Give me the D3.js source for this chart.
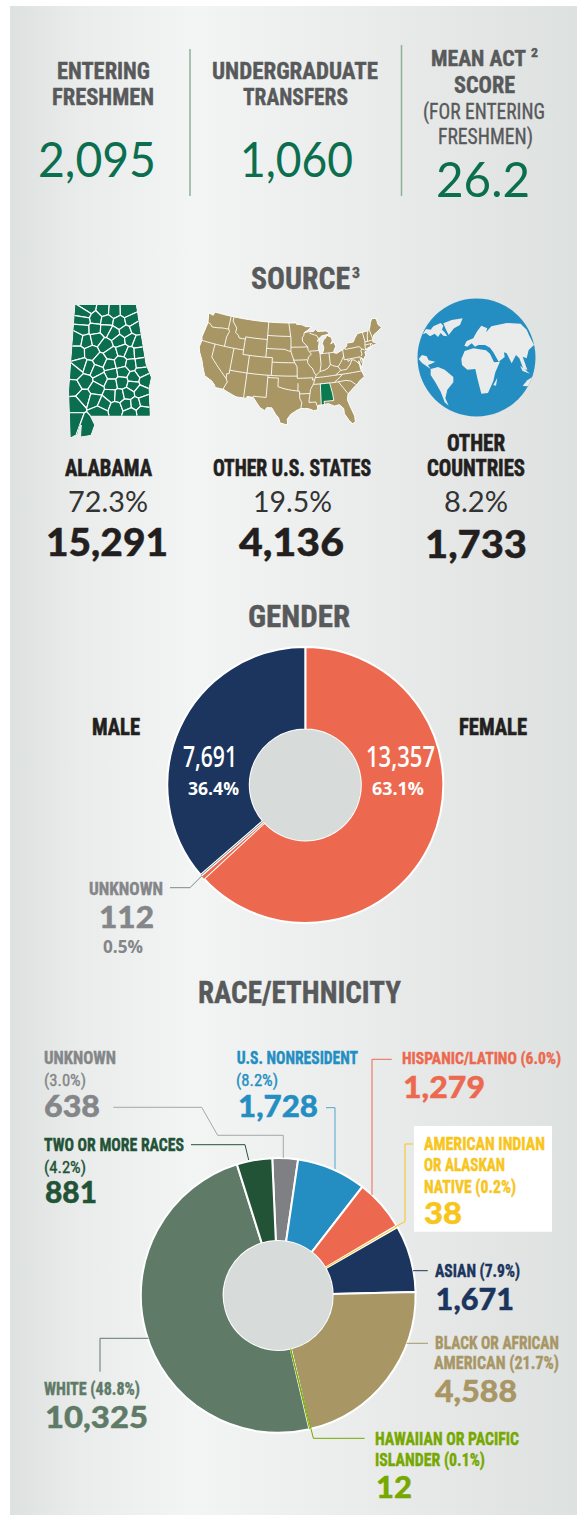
<!DOCTYPE html>
<html><head><meta charset="utf-8">
<script src="https://cdnjs.cloudflare.com/ajax/libs/d3/7.8.5/d3.min.js"></script>
<style>html,body{margin:0;padding:0;background:#fff}svg{display:block}</style>
</head><body><svg id="c" width="577" height="1515"></svg>
<script>
// ---------- data ----------
const genderCats=["FEMALE","UNKNOWN","MALE"];
const genderVals=[13357,112,7691];
const genderColors=["#ec6950","#7d8a83","#1b355e"];
const raceCats=["UNKNOWN","U.S. NONRESIDENT","HISPANIC/LATINO","AMERICAN INDIAN OR ALASKAN NATIVE","ASIAN","BLACK OR AFRICAN AMERICAN","HAWAIIAN OR PACIFIC ISLANDER","WHITE","TWO OR MORE RACES"];
const raceVals=[638,1728,1279,38,1671,4588,12,10325,881];
const raceColors=["#7f8083","#248ec3","#ec6950","#f7c51b","#1b355e","#a99665","#76a800","#5f7b68","#235337"];

// US map geometry (lon/lat)
const usOutline=[[-124.7,48.4],[-123,48.2],[-122.8,49],[-95.15,49],[-95.15,49.38],[-94.6,48.7],[-93,48.6],[-91.5,48.1],[-89.6,48],[-90.8,47.3],[-92.1,46.75],[-90.8,46.9],[-89,46.9],[-88.4,47.4],[-87.6,46.8],[-85,46.75],[-84.4,46.5],[-84,46],[-84.7,45.9],[-86.5,45.7],[-87.6,45.1],[-88,44.55],[-87.3,45.2],[-87.6,44],[-87.9,43],[-87.5,41.7],[-87,41.7],[-86.5,42.2],[-86.2,43],[-86.5,44],[-86,44.9],[-85.5,45],[-84.8,45.75],[-83.4,45.1],[-83.3,44.3],[-83.9,43.7],[-82.9,44.05],[-82.45,43],[-83.1,42.2],[-83.4,41.7],[-82.5,41.4],[-81.2,41.8],[-80,42.2],[-79,42.7],[-79,43.3],[-76.8,43.3],[-76.2,44],[-75,44.95],[-71.5,45],[-70.8,45.4],[-70.3,46.2],[-70,46.7],[-69.2,47.45],[-68.3,47.3],[-67.8,47],[-67.8,45.7],[-67,44.9],[-68.5,44.3],[-70,43.8],[-70.7,43],[-70.9,42.3],[-70,41.9],[-70,41.65],[-71.3,41.5],[-72.9,41.25],[-73.7,40.95],[-72,41],[-74,40.55],[-74,39.8],[-74.9,38.95],[-75.5,39.5],[-75.1,38.5],[-75.9,37.2],[-76.4,38.9],[-76.3,37],[-75.7,35.2],[-77,34.6],[-78,33.9],[-79.2,33.2],[-81,32],[-81.4,30.7],[-81,29.3],[-80.2,26.8],[-80.3,25.4],[-81.1,25.2],[-81.8,26.1],[-82.7,27.7],[-82.7,28.9],[-83.7,29.9],[-85,29.7],[-86.5,30.4],[-88,30.3],[-89.4,30.2],[-89.4,29.2],[-90.5,29.1],[-91.8,29.6],[-93.8,29.7],[-94.8,29.3],[-96.4,28.4],[-97.3,27.3],[-97.2,25.95],[-99.1,26.4],[-99.5,27.5],[-100.3,28.3],[-101.4,29.75],[-102.7,29.7],[-103.2,29],[-104.5,29.6],[-106.5,31.75],[-108.2,31.78],[-108.2,31.33],[-111.07,31.33],[-114.8,32.5],[-117.12,32.53],[-117.3,33],[-118.4,33.8],[-120.6,34.55],[-121.9,36.6],[-122.5,37.7],[-123.8,39.3],[-124.4,40.4],[-124.2,42],[-124.5,42.8],[-124,46.2],[-124.7,48.4]];
const usBorders=[
[[-124,46.25],[-123.2,46.15],[-122.3,45.55],[-121,45.65],[-119,45.93],[-116.92,46]],
[[-117.03,49],[-117.04,46.4],[-116.92,46],[-116.5,45.5],[-117.03,44.2],[-117.03,42]],
[[-116.05,49],[-116.05,48],[-114.4,46.6],[-114.5,45.6],[-113.5,45.1],[-113,44.5],[-111.05,44.5]],
[[-111.05,45],[-111.05,41]],[[-111.05,45],[-104.05,45]],[[-111.05,41],[-102.05,41]],
[[-124.2,42],[-111.05,42]],[[-104.05,49],[-104.05,41]],[[-104.05,45.94],[-96.56,45.94]],
[[-104.05,43],[-98.5,43],[-96.45,42.5]],[[-102.05,41],[-102.05,37]],[[-102.05,40],[-95.3,40]],
[[-103,37],[-94.62,37]],[[-114.05,37],[-103,37]],
[[-103,37],[-103,36.5],[-100,36.5],[-100,34.56],[-98,34.1],[-96,33.8],[-94.5,33.65]],
[[-103,36.5],[-103.06,32],[-106.6,32]],[[-109.05,41],[-109.05,31.33]],[[-114.05,42],[-114.05,36.2],[-114.7,36.1],[-114.6,35],[-114.1,34.3],[-114.7,33],[-114.8,32.5]],
[[-120,42],[-120,39],[-114.6,35]],
[[-97.2,49],[-96.56,46],[-96.45,45.3],[-96.45,42.5],[-96,41.5],[-95.3,40],[-94.62,39.1],[-94.62,36.5]],
[[-96.45,43.5],[-91.22,43.5]],[[-95.77,40.58],[-91.7,40.6],[-91.4,40.4]],
[[-92.1,46.75],[-92.3,46.1],[-92.8,45.6],[-92.75,44.75],[-91.22,43.5],[-91.1,42.7],[-90.2,41.8],[-91.1,41.2],[-91.4,40.4],[-91.5,40],[-90.7,39],[-90.2,38.7],[-89.5,37.3],[-89.15,37],[-89.5,36.5],[-89.7,36],[-90.1,35.1],[-91,33.9],[-91.2,33],[-91.5,31.7],[-91.6,31],[-89.75,31],[-89.6,30.2]],
[[-94.62,36.5],[-90.15,36.5],[-90.37,36],[-89.7,36]],
[[-94.43,35.4],[-94.48,33.65],[-94.04,33.55],[-94.04,32],[-93.5,31],[-93.8,29.7]],
[[-94.04,33],[-91.2,33]],[[-90.1,35],[-84.32,35]],
[[-89.5,36.5],[-88,36.5],[-83.68,36.6],[-75.9,36.55]],
[[-83.1,35],[-82,33.5],[-81,32.1]],[[-84.32,35],[-81,35.1],[-79.7,34.8],[-78.5,33.85]],
[[-84.32,35],[-82.5,36],[-81.68,36.59]],[[-83.68,36.6],[-82,37.5],[-82.6,38.4]],
[[-89.15,37],[-88,37.8],[-86.5,38],[-85.5,38.4],[-84.8,39.1],[-83.7,38.65],[-82.6,38.4],[-81.7,39.2],[-80.65,40.4],[-80.52,40.64]],
[[-87.53,41.7],[-87.53,39.3],[-88,37.8]],[[-84.8,41.7],[-84.8,39.1]],[[-87,41.75],[-83.4,41.73]],
[[-80.52,42],[-80.52,39.72],[-75.8,39.72],[-75.7,38.45],[-75.1,38.45]],
[[-82,37.5],[-80.3,37.5],[-79,38.5],[-78.3,39.4],[-77.7,39.3],[-77,38.8],[-76.3,38]],
[[-79.48,39.72],[-79.48,39.2],[-78.3,39.6]],
[[-75.4,39.8],[-75,40.2],[-75.1,41],[-74.7,41.36]],
[[-79.76,42.25],[-79.76,42],[-75.35,42],[-74.7,41.36],[-73.9,41]],
[[-73.65,41],[-73.5,42.05],[-73.25,42.75],[-73.35,45]],
[[-73.5,42.05],[-71.38,42.02],[-71.1,41.5]],[[-71.8,42.02],[-71.85,41.32]],
[[-73.25,42.75],[-71.3,42.7],[-70.8,42.87]],[[-72.45,42.73],[-72.05,44.1],[-71.5,45]],
[[-70.7,43.1],[-71.05,45.3]],[[-90.4,46.55],[-88.1,45.9],[-87.6,45.1]],[[-90.65,42.5],[-87.8,42.5]]];
const usAlabama=[[-88.2,35],[-85.6,35],[-85.1,32.5],[-85,31],[-87.6,31],[-87.5,30.3],[-88,30.25],[-88.4,30.3]];

// Alabama geometry (lon/lat) and county centres
const alOutline=[[-88.2,35],[-85.6,35],[-85.18,32.87],[-84.95,32.4],[-85.05,32],[-85,31],[-87.6,31],[-87.4,30.65],[-87.55,30.28],[-87.95,30.23],[-87.92,30.65],[-88.03,30.65],[-88.13,30.32],[-88.4,30.2],[-88.47,31.9],[-88.2,35]];
const alCounties=[[-87.65,34.9],[-86.98,34.8],[-86.55,34.77],[-85.98,34.78],[-87.8,34.7],[-87.32,34.52],[-86.85,34.45],[-86.3,34.37],[-85.8,34.46],[-87.85,34.44],[-87.37,34.15],[-86.87,34.13],[-86.57,34],[-86.03,34.05],[-85.6,34.18],[-87.88,34.14],[-88.1,33.78],[-87.74,33.72],[-87.3,33.8],[-86.9,33.55],[-86.31,33.72],[-85.83,33.77],[-85.52,33.67],[-88.1,33.28],[-87.52,33.29],[-86.66,33.26],[-86.17,33.38],[-85.86,33.27],[-85.46,33.29],[-88.2,32.6],[-87.96,32.85],[-87.63,32.76],[-87.13,33],[-86.72,32.85],[-86.25,32.94],[-85.8,32.86],[-85.39,32.91],[-87.29,32.64],[-86.64,32.53],[-86.15,32.6],[-85.35,32.6],[-85.69,32.39],[-85.18,32.29],[-88.26,32.02],[-87.79,32.25],[-87.1,32.33],[-86.65,32.15],[-86.2,32.22],[-85.72,32.1],[-85.39,31.87],[-87.31,31.99],[-87.83,31.68],[-88.2,31.4],[-86.68,31.75],[-86.31,31.73],[-85.94,31.8],[-87.37,31.57],[-86.99,31.43],[-86.45,31.25],[-85.99,31.4],[-85.61,31.43],[-85.24,31.51],[-85.3,31.15],[-85.84,31.09],[-87.16,31.12],[-88.2,30.8],[-87.75,30.66]];

// Globe icon land shapes (traced, in icon units 0..390)
const globeLand=[
[[38,118],[48,102],[62,104],[70,94],[92,84],[100,92],[96,104],[104,112],[112,124],[100,122],[92,114],[84,126],[74,116],[60,124],[48,114]],
[[100,85],[125,75],[158,70],[150,90],[132,100],[116,120],[106,100]],
[[26,192],[36,180],[50,184],[56,196],[76,200],[64,206],[54,210],[62,222],[50,214],[36,204]],
[[62,222],[84,216],[104,224],[130,246],[130,262],[112,284],[106,310],[116,332],[104,322],[92,290],[76,262],[62,240]],
[[154,192],[164,168],[190,160],[228,166],[240,176],[252,202],[270,200],[256,232],[250,258],[234,294],[214,296],[202,250],[196,222],[172,224],[156,210]],
[[163,152],[170,138],[190,130],[195,120],[202,108],[214,92],[232,100],[228,112],[244,94],[290,84],[332,86],[350,104],[358,122],[372,150],[356,165],[350,190],[338,185],[345,205],[352,225],[340,222],[328,190],[318,180],[305,205],[290,175],[282,172],[284,186],[266,200],[250,172],[240,158],[225,150],[205,150],[195,155],[185,145],[172,155]],
[[338,272],[352,256],[376,240],[380,252],[368,270],[350,274]],
[[250,270],[262,248],[258,272]],
[[330,212],[346,224],[360,236],[338,228]]
];

// ---------- drawing ----------
const svg=d3.select("#c");
const defs=svg.append("defs");
const g0=defs.append("linearGradient").attr("id","bg");
[[0,"#dde1df"],[.12,"#e9ecea"],[.32,"#f3f5f4"],[.6,"#ebedec"],[1,"#dde1df"]].forEach(s=>g0.append("stop").attr("offset",s[0]).attr("stop-color",s[1]));
svg.append("rect").attr("x",10).attr("y",6).attr("width",567).attr("height",1509).attr("fill","url(#bg)");

const NARROW="'Liberation Sans Narrow','Roboto Condensed',Roboto,sans-serif";
const LATO="Lato,'Open Sans',sans-serif";
const OPEN="'Open Sans',sans-serif";
const DARK="#58595b",BLACK="#231f20",GREEN="#0b6e4f",GRAY="#848689";
// fit each label between two measured x edges on a baseline
function T(s,x0,x1,y,size,fill,o={}){
  const f=o.f||NARROW,w=o.w||700;
  const st=o.s!==undefined?o.s:(f===NARROW?(w===700?.4:.35):(w===900?.4:0));
  return svg.append("text").attr("x",x0).attr("y",y).attr("textLength",x1-x0).attr("lengthAdjust","spacingAndGlyphs")
   .attr("font-family",f).attr("font-weight",w).attr("font-size",size).attr("fill",fill)
   .attr("stroke",st?fill:"none").attr("stroke-width",st||null).text(s);
}
// Top stats
T("ENTERING",57,150,79,24,DARK);T("FRESHMEN",52,154,105,24,DARK);
T("UNDERGRADUATE",212,378,79,24,DARK);T("TRANSFERS",243,348,105,24,DARK);
T("MEAN ACT",431,526,66,22.5,DARK);T("2",531,538,57,13,DARK);T("SCORE",454,515,92.7,24,DARK);
T("(FOR ENTERING",423,545,119.3,22,DARK,{w:400});T("FRESHMEN)",438,533,144,22,DARK,{w:400});
T("2,095",38,156,176.7,49,GREEN,{f:LATO,w:400});T("1,060",240,353,176.7,49,GREEN,{f:LATO,w:400});T("26.2",436,530,197,49,GREEN,{f:LATO,w:400});
[[190,49],[401.5,45]].forEach(d=>svg.append("line").attr("x1",d[0]).attr("x2",d[0]).attr("y1",d[1]).attr("y2",196).attr("stroke","#8fae9c").attr("stroke-width",1.5));
// Headers
T("SOURCE",251,350,289.3,31,DARK);T("3",352,360,278,14,DARK);
T("GENDER",248,350,627,31,DARK);T("RACE/ETHNICITY",198,401,1003,31,DARK);
// Source
T("ALABAMA",65,152,476,23,BLACK,{s:.6});T("OTHER U.S. STATES",213,371,476,23,BLACK,{s:.6});
T("OTHER",447,505,451,23,BLACK,{s:.6});T("COUNTRIES",427,525,476,23,BLACK,{s:.6});
T("72.3%",68,148,511.7,28,"#333",{f:LATO,w:400});T("19.5%",253,332,511.7,28,"#333",{f:LATO,w:400});T("8.2%",444,508,511.7,28,"#333",{f:LATO,w:400});
T("15,291",46,168,555.7,38,BLACK,{f:LATO,w:900});T("4,136",239,344,555.7,38,BLACK,{f:LATO,w:900});T("1,733",425,527,557.7,38,BLACK,{f:LATO,w:900});

const dens=pts=>{const o=[];pts.forEach((p,i)=>{if(i){const a=pts[i-1],n=Math.ceil(Math.abs(p[0]-a[0]));for(let k=1;k<n;k++)o.push([a[0]+(p[0]-a[0])*k/n,a[1]+(p[1]-a[1])*k/n]);}o.push(p);});return o;};
// Alabama map
const alProj=d3.geoMercator().fitExtent([[67,305],[153,437]],{type:"MultiPoint",coordinates:alOutline});
const alPts=alCounties.map(alProj);
const vor=d3.Delaunay.from(alPts).voronoi([40,290,180,450]);
defs.append("clipPath").attr("id","alclip").append("path").attr("d",d3.line()(alOutline.map(alProj))+"Z");
svg.append("path").attr("d",d3.line()(alOutline.map(alProj))+"Z").attr("fill","#0b6e4f");
svg.append("g").attr("clip-path","url(#alclip)").selectAll("path").data(alPts).join("path")
  .attr("d",(d,i)=>vor.renderCell(i)).attr("fill","#0b6e4f").attr("stroke","#fff").attr("stroke-width",1.2);
// US map
const usProj=d3.geoAlbers().fitExtent([[197.7,312],[383,425]],{type:"MultiPoint",coordinates:usOutline});
const usLine=p=>d3.line()(dens(p).map(usProj));
svg.append("path").attr("d",usLine(usOutline)+"Z").attr("fill","#a99665").attr("stroke","#fff").attr("stroke-width",1);
svg.append("g").selectAll("path").data(usBorders).join("path").attr("d",usLine).attr("fill","none").attr("stroke","#fff").attr("stroke-width",.9);
svg.append("path").attr("d",usLine(usAlabama)+"Z").attr("fill","#0b7a4f").attr("stroke","#fff").attr("stroke-width",.9);
// Globe
const gx=d3.scaleLinear().domain([0,390]).range([410,540]),gy=d3.scaleLinear().domain([0,390]).range([295,425]);
defs.append("clipPath").attr("id","globeclip").append("circle").attr("cx",476.5).attr("cy",357.5).attr("r",59);
svg.append("circle").attr("cx",476.5).attr("cy",357.5).attr("r",59).attr("fill","#248ec3");
svg.append("g").attr("clip-path","url(#globeclip)").selectAll("path").data(globeLand).join("path")
  .attr("d",d3.line().x(d=>gx(d[0])).y(d=>gy(d[1])).curve(d3.curveLinearClosed)).attr("fill","#e9ecea");

// Donuts
function donut(vals,colors,cx,cy,r,ir,start,thin,thinFill){
  const pie=d3.pie().sort(null).startAngle(start).endAngle(start+2*Math.PI)(vals);
  const arc=d3.arc().outerRadius(r).innerRadius(ir);
  const g=svg.append("g").attr("transform",`translate(${cx},${cy})`);
  g.selectAll("path").data(pie.filter(d=>!thin.includes(d.index))).join("path").attr("d",arc).attr("fill",(d)=>colors[d.index]).attr("stroke","#fff").attr("stroke-width",2);
  const th=pie.filter(d=>thin.includes(d.index));
  const mid=d=>(d.startAngle+d.endAngle)/2;
  g.selectAll("path.t").data(th).join("path").attr("class","t").attr("d",arc).attr("fill",thinFill||"#fff");
  if(thinFill){ // narrow the gap: pale seam beside the thin slice
    g.selectAll("line.w").data(th).join("line").attr("class","w")
     .attr("x1",d=>ir*Math.sin(d.endAngle)).attr("y1",d=>-ir*Math.cos(d.endAngle)).attr("x2",d=>r*Math.sin(d.endAngle)).attr("y2",d=>-r*Math.cos(d.endAngle))
     .attr("stroke","#fff").attr("stroke-width",3);
  }
  const a=d=>thinFill?d.endAngle:mid(d);
  g.selectAll("line.t").data(th).join("line").attr("class","t")
   .attr("x1",d=>ir*Math.sin(a(d))).attr("y1",d=>-ir*Math.cos(a(d))).attr("x2",d=>r*Math.sin(a(d))).attr("y2",d=>-r*Math.cos(a(d)))
   .attr("stroke",d=>colors[d.index]).attr("stroke-width",1);
  g.append("circle").attr("r",ir).attr("fill","#d7dbd9");
}
donut(genderVals,genderColors,305.3,785,138,55.5,0,[1],"#ec6950");
donut(raceVals,raceColors,278.2,1295.4,137.4,54.5,-2.5*Math.PI/180,[3,6]);

function leader(pts,c,w=1){svg.append("path").attr("d",d3.line()(pts)).attr("fill","none").attr("stroke",c).attr("stroke-width",w);}
// Gender labels
T("MALE",92,140,735,23,BLACK,{s:.6});T("FEMALE",459,527,735,23,BLACK,{s:.6});
T("7,691",183,237,767,28,"#fff",{f:OPEN,w:600});T("13,357",366,435,767,28,"#fff",{f:OPEN,w:600});
T("36.4%",188,239,795,18,"#fff",{f:OPEN,w:700});T("63.1%",372,424,795,18,"#fff",{f:OPEN,w:700});
T("UNKNOWN",89,163,895,18,GRAY);T("112",99,154,928,31,GRAY,{f:LATO,w:900});T("0.5%",103,143,952.7,18,GRAY,{f:OPEN,w:700});
leader([[170,887.7],[190,887.7],[201.7,876]],"#7d8a83");
// Race labels
const CG="#848689",CB="#248ec3",CC="#ec6950",CY="#f7c51b",CN="#1b355e",CT="#a99665",CH="#76a800",CW="#5f7b68",CD="#235337";
svg.append("rect").attr("x",414).attr("y",1126).attr("width",138).attr("height",105.7).attr("fill","#fff");
T("UNKNOWN",44,116,1064,17.5,CG);T("(3.0%)",44,86,1085.7,16.5,CG,{w:400});T("638",44,100,1117,30,CG,{f:LATO,w:900});
leader([[113.3,1107.3],[201.7,1107.3],[217.7,1135.3],[283.3,1135.3],[283.3,1158]],"#a5a7a9");
T("TWO OR MORE RACES",44,184,1150.7,17.5,CD);T("(4.2%)",44,86,1172.7,16.5,CD,{w:400});T("881",45,97,1203,30,CD,{f:LATO,w:900});
leader([[191,1144.7],[245,1144.7],[248.7,1160]],CD);
T("U.S. NONRESIDENT",236.7,358,1064,17.5,CB);T("(8.2%)",236,278,1085.7,16.5,CB,{w:400});T("1,728",238,318,1117,30,CB,{f:LATO,w:900});
leader([[326,1107.7],[335,1107.7],[335,1169]],"#4fa5d1");
T("HISPANIC/LATINO (6.0%)",402,561,1064,16.5,CC);T("1,279",403,485,1098,31,CC,{f:LATO,w:900});
leader([[391.7,1059.3],[372,1059.3],[372,1195]],CC);
T("AMERICAN INDIAN",424,545,1150,17.5,CY);T("OR ALASKAN",424,505,1171,17.5,CY);T("NATIVE (0.2%)",424,516,1192.7,17.5,CY);T("38",424,462,1224,31,CY,{f:LATO,w:900});
leader([[413,1144],[405,1144],[405,1221.7],[395,1226.7]],CY);
T("ASIAN (7.9%)",435,520,1277,17.5,CN);T("1,671",435.6,514,1310,31,CN,{f:LATO,w:900});
leader([[413,1270.7],[427.7,1270.7]],CN);
T("BLACK OR AFRICAN",435,559,1349,17.5,CT);T("AMERICAN (21.7%)",434,559,1369.3,17.5,CT);T("4,588",435,517,1401.7,31,CT,{f:LATO,w:900});
leader([[406.5,1343.3],[428,1343.3]],CT);
T("HAWAIIAN OR PACIFIC",375,519,1445,17.5,CH);T("ISLANDER (0.1%)",375,485,1466,17.5,CH);T("12",376,412,1498,31,CH,{f:LATO,w:900});
leader([[290.7,1350],[313.4,1438.3],[364.6,1438.3]],CH);
T("WHITE (48.8%)",44,140,1395,17.5,CW);T("10,325",45,148,1427.7,31,CW,{f:LATO,w:900});
leader([[148.6,1338.3],[100,1338.3],[100,1371.7]],CW);
</script></body></html>
